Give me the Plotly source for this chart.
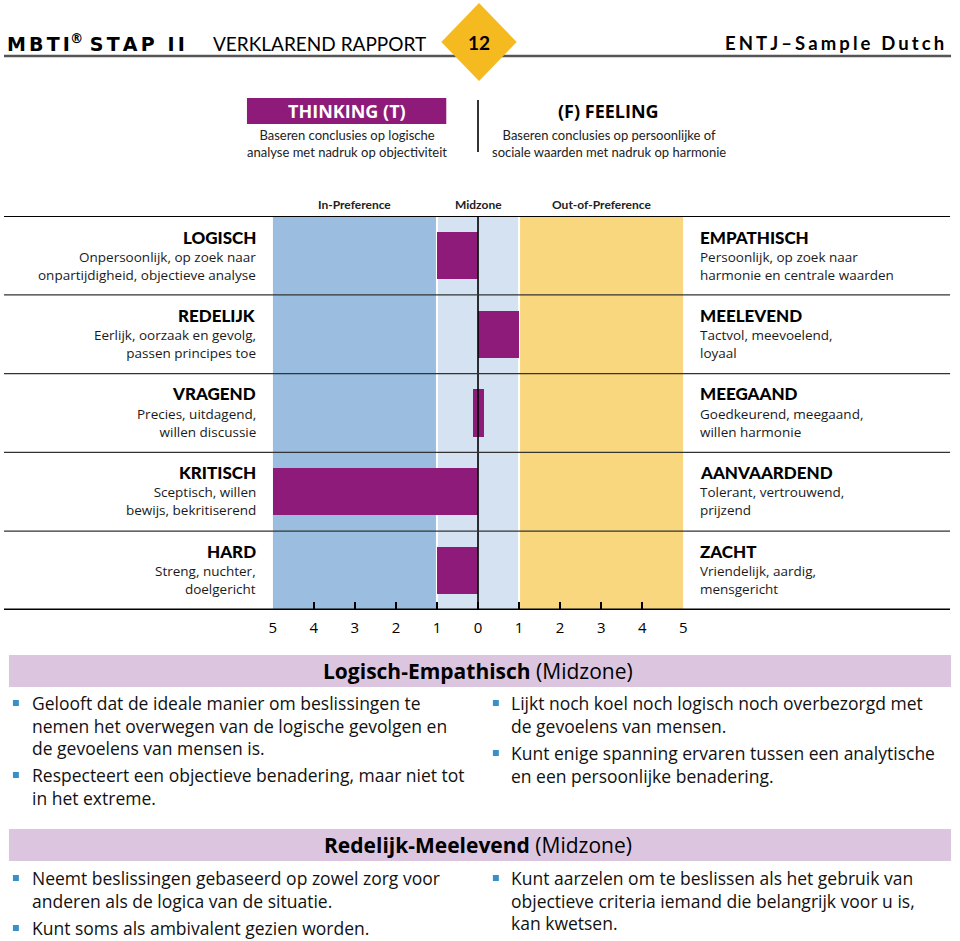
import plotly.graph_objects as go

W, H = 960, 941

# ---------------- data ----------------
left_titles = ["LOGISCH", "REDELIJK", "VRAGEND", "KRITISCH", "HARD"]
left_desc = [
    "Onpersoonlijk, op zoek naar<br>onpartijdigheid, objectieve analyse",
    "Eerlijk, oorzaak en gevolg,<br>passen principes toe",
    "Precies, uitdagend,<br>willen discussie",
    "Sceptisch, willen<br>bewijs, bekritiserend",
    "Streng, nuchter,<br>doelgericht",
]
right_titles = ["EMPATHISCH", "MEELEVEND", "MEEGAAND", "AANVAARDEND", "ZACHT"]
right_desc = [
    "Persoonlijk, op zoek naar<br>harmonie en centrale waarden",
    "Tactvol, meevoelend,<br>loyaal",
    "Goedkeurend, meegaand,<br>willen harmonie",
    "Tolerant, vertrouwend,<br>prijzend",
    "Vriendelijk, aardig,<br>mensgericht",
]
# scores: negative = Thinking side, positive = Feeling side
scores = [-1, 1, 0, -5, -1]
tick_vals = [-5, -4, -3, -2, -1, 0, 1, 2, 3, 4, 5]
tick_text = ["5", "4", "3", "2", "1", "0", "1", "2", "3", "4", "5"]
zone_names = ["In-Preference", "Midzone", "Out-of-Preference"]
zone_bounds = [(-5, -1), (-1, 1), (1, 5)]

section1_title = "Logisch-Empathisch"
section1_left = [
    ["Gelooft dat de ideale manier om beslissingen te",
     "nemen het overwegen van de logische gevolgen en",
     "de gevoelens van mensen is."],
    ["Respecteert een objectieve benadering, maar niet tot",
     "in het extreme."],
]
section1_right = [
    ["Lijkt noch koel noch logisch noch overbezorgd met",
     "de gevoelens van mensen."],
    ["Kunt enige spanning ervaren tussen een analytische",
     "en een persoonlijke benadering."],
]
section2_title = "Redelijk-Meelevend"
section2_left = [
    ["Neemt beslissingen gebaseerd op zowel zorg voor",
     "anderen als de logica van de situatie."],
    ["Kunt soms als ambivalent gezien worden."],
]
section2_right = [
    ["Kunt aarzelen om te beslissen als het gebruik van",
     "objectieve criteria iemand die belangrijk voor u is,",
     "kan kwetsen."],
]

# ---------------- styles ----------------
MAGENTA = "#8E1A7A"
BLUE = "#9BBDDF"
LIGHT = "#D5E2F1"
YELLOW = "#F8D77E"
ZONE_COLORS = [BLUE, LIGHT, YELLOW]
LAVENDER = "#DCC6DF"
BULLET = "#3A8FC8"
FONT = "Lato"
BODY = "Open Sans"
ZERO_MARK = 0.28  # visual width of a zero-score marker
SP = "\u2006"


def px(x):
    return x / W


def py(y):
    return 1 - y / H


fig = go.Figure()

# bars
bar_base = [s if s < 0 else 0 for s in scores]
bar_len = [abs(s) for s in scores]
bar_base = [(-ZERO_MARK / 2 if s == 0 else b) for s, b in zip(scores, bar_base)]
bar_len = [(ZERO_MARK if s == 0 else l) for s, l in zip(scores, bar_len)]
fig.add_trace(go.Bar(
    y=list(range(len(scores))), x=bar_len, base=bar_base, orientation="h",
    width=0.6, marker=dict(color=MAGENTA, line=dict(width=0)),
    hoverinfo="skip", showlegend=False,
))

shapes = []
annotations = []

# zones
for (a, b), c in zip(zone_bounds, ZONE_COLORS):
    shapes.append(dict(type="rect", xref="x", yref="y", x0=a, x1=b, y0=-0.5, y1=4.5,
                       fillcolor=c, line=dict(width=0), layer="below"))
for v in [-1, 1]:
    shapes.append(dict(type="line", xref="x", yref="y", x0=v, x1=v, y0=-0.5, y1=4.5,
                       line=dict(color="white", width=2), layer="below"))
# zero line
shapes.append(dict(type="line", xref="x", yref="y", x0=0, x1=0, y0=-0.5, y1=4.5,
                   line=dict(color="black", width=1.6), layer="above"))
# row separators
for i in range(1, len(scores)):
    shapes.append(dict(type="line", xref="paper", yref="y", x0=0, x1=px(954), y0=i - 0.5, y1=i - 0.5,
                       line=dict(color="#333333", width=1.2), layer="above"))
shapes.append(dict(type="line", xref="paper", yref="y", x0=0, x1=px(954), y0=-0.5, y1=-0.5,
                   line=dict(color="black", width=2.2), layer="above"))
shapes.append(dict(type="line", xref="paper", yref="y", x0=0, x1=px(954), y0=4.5, y1=4.5,
                   line=dict(color="black", width=3), layer="above"))

# zone header labels
for (a, b), name in zip(zone_bounds, zone_names):
    annotations.append(dict(x=(a + b) / 2, xref="x", y=py(205), yref="paper", text="<b>%s</b>" % name,
                            showarrow=False, font=dict(family=FONT, size=12, color="#222"),
                            xanchor="center", yanchor="middle"))

# row labels
for i in range(len(scores)):
    ty = 237 + 78.5 * i
    annotations.append(dict(x=px(256), y=py(ty), xref="paper", yref="paper", text=left_titles[i],
                            showarrow=False, xanchor="right", yanchor="middle",
                            font=dict(family=FONT, size=17, color="black", weight=900)))
    annotations.append(dict(x=px(256), y=py(ty + 9), xref="paper", yref="paper", text=left_desc[i],
                            showarrow=False, xanchor="right", yanchor="top", align="right",
                            font=dict(family=BODY, size=13.5, color="#1a1a1a")))
    annotations.append(dict(x=px(700), y=py(ty), xref="paper", yref="paper", text=right_titles[i],
                            showarrow=False, xanchor="left", yanchor="middle",
                            font=dict(family=FONT, size=17, color="black", weight=900)))
    annotations.append(dict(x=px(700), y=py(ty + 9), xref="paper", yref="paper", text=right_desc[i],
                            showarrow=False, xanchor="left", yanchor="top", align="left",
                            font=dict(family=BODY, size=13.5, color="#1a1a1a")))

# ---------------- header ----------------
shapes.append(dict(type="line", xref="paper", yref="paper", x0=0, x1=px(955), y0=py(56), y1=py(56),
                   line=dict(color="#555555", width=2.5)))
shapes.append(dict(type="path", xref="paper", yref="paper",
                   path="M %f %f L %f %f L %f %f L %f %f Z" % (px(479), py(3), px(517), py(42), px(479), py(81), px(441), py(42)),
                   fillcolor="#F4BA1F", line=dict(width=0)))
annotations.append(dict(x=px(479), y=py(42), xref="paper", yref="paper", text="<b>12</b>", showarrow=False,
                        font=dict(family=FONT, size=19, color="black"), xanchor="center", yanchor="middle"))
annotations.append(dict(x=px(1), y=py(43), xref="paper", yref="paper",
                        text="<b>" + SP.join("MBTI") + "<sup>®</sup> " + SP.join("STAP II") + "</b>",
                        showarrow=False,
                        font=dict(family="DejaVu Sans", size=19, color="black"), xanchor="left", yanchor="middle"))
annotations.append(dict(x=px(209), y=py(43), xref="paper", yref="paper", text="VERKLAREND RAPPORT",
                        showarrow=False, font=dict(family=FONT, size=19, color="black"),
                        xanchor="left", yanchor="middle"))
annotations.append(dict(x=px(950), y=py(43), xref="paper", yref="paper",
                        text="<b>" + SP.join("ENTJ–Sample Dutch") + "</b>", showarrow=False,
                        font=dict(family=FONT, size=18.5, color="black"), xanchor="right", yanchor="middle"))

# Thinking / Feeling heading
shapes.append(dict(type="rect", xref="paper", yref="paper", x0=px(245), x1=px(446), y0=py(124), y1=py(98),
                   fillcolor=MAGENTA, line=dict(width=0)))
annotations.append(dict(x=px(345.5), y=py(111), xref="paper", yref="paper", text="<b>THINKING (T)</b>",
                        showarrow=False, font=dict(family=BODY, size=18, color="white"),
                        xanchor="center", yanchor="middle"))
annotations.append(dict(x=px(345.5), y=py(125), xref="paper", yref="paper",
                        text="Baseren conclusies op logische<br>analyse met nadruk op objectiviteit",
                        showarrow=False, font=dict(family=FONT, size=13, color="#222"),
                        xanchor="center", yanchor="top"))
shapes.append(dict(type="line", xref="paper", yref="paper", x0=px(478), x1=px(478), y0=py(100), y1=py(152),
                   line=dict(color="#333", width=2)))
annotations.append(dict(x=px(610), y=py(111), xref="paper", yref="paper", text="<b>(F) FEELING</b>",
                        showarrow=False, font=dict(family=BODY, size=18, color="black"),
                        xanchor="center", yanchor="middle"))
annotations.append(dict(x=px(610), y=py(125), xref="paper", yref="paper",
                        text="Baseren conclusies op persoonlijke of<br>sociale waarden met nadruk op harmonie",
                        showarrow=False, font=dict(family=FONT, size=13, color="#222"),
                        xanchor="center", yanchor="top"))

LINE_STEP = 22.5


# ---------------- bottom sections ----------------
def section(title, top, left_items, right_items, left_starts, right_starts):
    shapes.append(dict(type="rect", xref="paper", yref="paper", x0=px(5), x1=px(955), y0=py(top + 32), y1=py(top),
                       fillcolor=LAVENDER, line=dict(width=0)))
    annotations.append(dict(x=px(478), y=py(top + 16), xref="paper", yref="paper",
                            text="<b>%s</b> (Midzone)" % title, showarrow=False,
                            font=dict(family=BODY, size=21, color="black"),
                            xanchor="center", yanchor="middle"))
    for items, starts, bx, tx in [(left_items, left_starts, 9, 26), (right_items, right_starts, 493, 509)]:
        for lines, sy in zip(items, starts):
            shapes.append(dict(type="rect", xref="paper", yref="paper", x0=px(bx), x1=px(bx + 6),
                               y0=py(sy + 3), y1=py(sy - 3), fillcolor=BULLET, line=dict(width=0)))
            for k, line in enumerate(lines):
                annotations.append(dict(x=px(tx), y=py(sy + k * LINE_STEP), xref="paper", yref="paper",
                                        text=line, showarrow=False, xanchor="left", yanchor="middle",
                                        font=dict(family=BODY, size=17.5, color="#111")))


section(section1_title, 655, section1_left, section1_right, [703, 775], [703, 753])
section(section2_title, 829, section2_left, section2_right, [878, 928], [878])

fig.update_layout(
    width=W, height=H, margin=dict(l=0, r=0, t=0, b=0), autosize=False,
    paper_bgcolor="white", plot_bgcolor="rgba(0,0,0,0)",
    shapes=shapes, annotations=annotations, bargap=0,
    xaxis=dict(domain=[px(271), px(685)], range=[-5, 5], tickvals=tick_vals, ticktext=tick_text,
               ticks="inside", ticklen=8, tickwidth=1.5, tickcolor="black", showgrid=False, zeroline=False,
               showline=False, tickfont=dict(family=BODY, size=15, color="black"), ticklabelstandoff=7,
               fixedrange=True),
    yaxis=dict(domain=[py(610), py(216)], range=[4.5, -0.5], showticklabels=False, showgrid=False,
               zeroline=False, ticks="", fixedrange=True),
)

fig.write_html(
    "out.html",
    config={"responsive": False, "displayModeBar": False},
    default_width="960px", default_height="941px",
    post_script="document.documentElement.style.margin='0';document.body.style.margin='0';"
                "document.body.style.padding='0';document.body.style.overflow='hidden';"
                "document.documentElement.style.overflow='hidden';",
)
